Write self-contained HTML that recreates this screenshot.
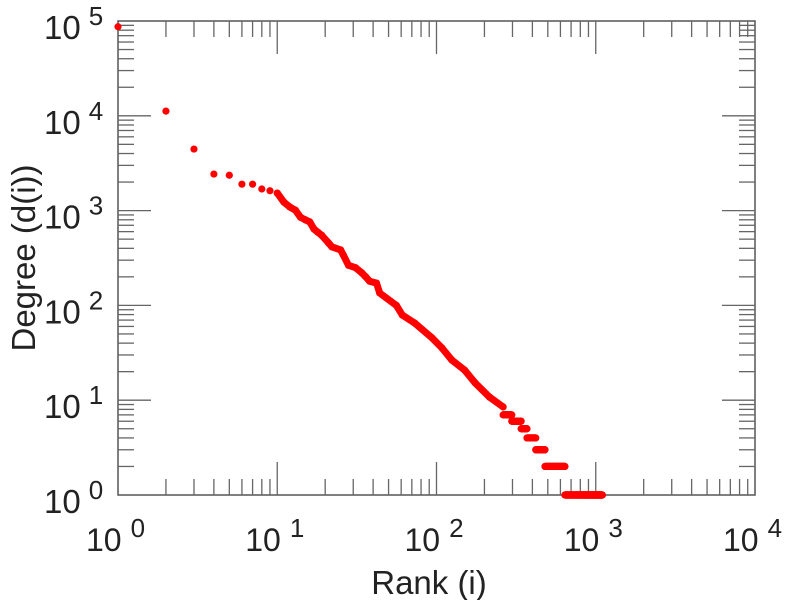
<!DOCTYPE html>
<html><head><meta charset="utf-8"><style>
body{margin:0;background:#fff;}
svg{display:block;font-family:"Liberation Sans",sans-serif;}
</style></head><body>
<svg id="chart" width="786" height="600" viewBox="0 0 786 600" xmlns="http://www.w3.org/2000/svg"></svg>
<script>
const xTickExps=[0,1,2,3,4];
const yTickExps=[0,1,2,3,4,5];
const ranks=[1,2,3,4,5,6,7,8,9,10,11,12,13,14,15,16,17,18,19,21,22,25,26,28,31,34,36,38,42,44,56,61,73,93,108,125,150,175,215,262];
const degrees=[87000,11200,4460,2430,2360,1900,1900,1690,1620,1530,1230,1090,1010,850,800,760,640,590,550,455,415,385,340,265,250,220,200,180,172,135,100,79,65,46,35.7,26.5,20.8,15.2,10.8,8.5];
const plateauDeg=[7,6,5,4,3,2,1];
const plateauStart=[262,297,340,370,420,480,640];
const plateauEnd=[297,340,370,420,480,640,1100];

const X0=118,X1=755,Y0=495,Y1=21;
const NS="http://www.w3.org/2000/svg";
const svg=document.getElementById('chart');
function xs(r){return X0+(X1-X0)*Math.log10(r)/4;}
function ys(d){return Y0-(Y0-Y1)*Math.log10(d)/5;}
function mk(t,a,p){const e=document.createElementNS(NS,t);for(const k in a)e.setAttribute(k,a[k]);(p||svg).appendChild(e);return e;}

const axes=mk('g',{});


mk('rect',{x:X0,y:Y1,width:X1-X0,height:Y0-Y1,fill:'none',stroke:'#555','stroke-width':1.5},axes);
for(let e=0;e<4;e++){for(let m=1;m<10;m++){const x=xs(m*Math.pow(10,e));const L=m===1?33:16;
 if(e===0&&m===1)continue;
 mk('line',{x1:x,y1:Y0,x2:x,y2:Y0-L,stroke:'#666','stroke-width':1.3},axes);
 mk('line',{x1:x,y1:Y1,x2:x,y2:Y1+L,stroke:'#666','stroke-width':1.3},axes);}}
for(let e=0;e<5;e++){for(let m=1;m<10;m++){const y=ys(m*Math.pow(10,e));const L=m===1?33:16;
 if(e===0&&m===1)continue;
 mk('line',{x1:X0,y1:y,x2:X0+L,y2:y,stroke:'#666','stroke-width':1.3},axes);
 mk('line',{x1:X1,y1:y,x2:X1-L,y2:y,stroke:'#666','stroke-width':1.3},axes);}}
xTickExps.forEach(e=>{const t=mk('text',{x:xs(Math.pow(10,e))-32,y:551,'font-size':32,fill:'#222'});
 
 
 t.textContent='10';const s=mk('tspan',{dx:9,dy:-14,'font-size':26},t);s.textContent=String(e);});
yTickExps.forEach(e=>{const t=mk('text',{x:44,y:ys(Math.pow(10,e))+18,'font-size':33,fill:'#222'});
 
 
 t.textContent='10';const s=mk('tspan',{dx:8,dy:-14,'font-size':26},t);s.textContent=String(e);});
const xt=mk('text',{x:429,y:594,'text-anchor':'middle','font-size':33,fill:'#222'});


xt.textContent='Rank (i)';
const yt=mk('text',{x:0,y:0,'text-anchor':'middle','font-size':33,fill:'#222',transform:'translate(35,258) rotate(-90)'});


yt.textContent='Degree (d(i))';

const series=mk('g',{fill:'#ff0000'});


let pts=[];
for(let i=0;i<ranks.length;i++){if(ranks[i]>=10)pts.push(xs(ranks[i]).toFixed(1)+','+ys(degrees[i]).toFixed(1));}
const pl=mk('polyline',{points:pts.join(' '),fill:'none',stroke:'#ff0000','stroke-width':7,'stroke-linejoin':'round','stroke-linecap':'round'},series);


for(let i=0;i<ranks.length;i++){const c=mk('circle',{cx:xs(ranks[i]),cy:ys(degrees[i]),r:3.6},series);
 
 }
for(let k=0;k<plateauDeg.length;k++){for(let r=plateauStart[k];r<=plateauEnd[k];r++){
 const c=mk('circle',{cx:xs(r),cy:ys(plateauDeg[k]),r:3.6},series);
 
 }}
</script>
</body></html>
